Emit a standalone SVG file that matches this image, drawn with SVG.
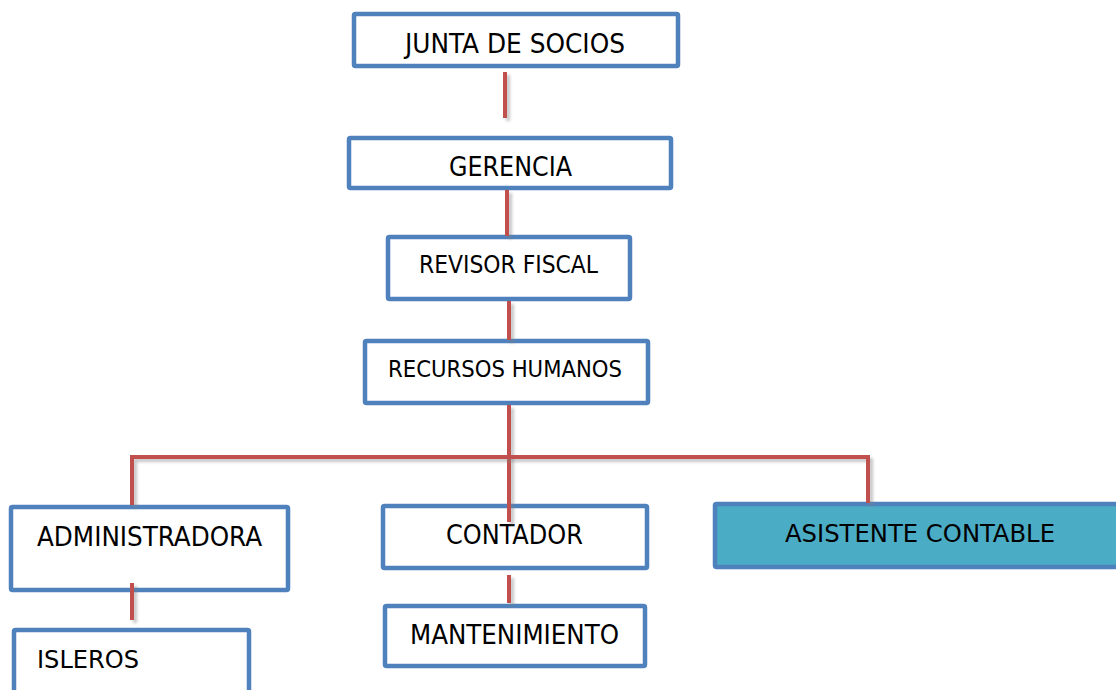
<svg xmlns="http://www.w3.org/2000/svg" width="1116" height="690" viewBox="0 0 1116 690">
<defs>
<style>
.box{fill:#ffffff;stroke:#4F81BD;stroke-width:4.5}
.fill{fill:#4BACC6}
.lbl{font-family:"DejaVu Sans Condensed","DejaVu Sans",sans-serif;fill:#000}
.con{fill:none;stroke:#C0504D;stroke-width:4;filter:url(#sh)}
</style>
<filter id="sh" filterUnits="userSpaceOnUse" x="0" y="0" width="1116" height="690">
<feDropShadow dx="3" dy="3" stdDeviation="1.5" flood-color="#808080" flood-opacity="0.45"/>
</filter>
</defs>
<rect width="1116" height="690" fill="#ffffff"/>
<g id="junta"><rect class="box" x="354" y="14" width="324" height="52" rx="1.5"/><text class="lbl" x="405" y="53" font-size="27" textLength="220" lengthAdjust="spacingAndGlyphs">JUNTA DE SOCIOS</text></g>
<g id="gerencia"><rect class="box" x="349" y="138" width="322" height="50" rx="1.5"/><text class="lbl" x="449" y="176" font-size="27" textLength="123" lengthAdjust="spacingAndGlyphs">GERENCIA</text></g>
<g id="revisor"><rect class="box" x="388" y="237" width="242" height="62" rx="1.5"/><text class="lbl" x="419" y="273" font-size="24" textLength="179" lengthAdjust="spacingAndGlyphs">REVISOR FISCAL</text></g>
<g id="recursos"><rect class="box" x="365" y="341" width="283" height="62" rx="1.5"/><text class="lbl" x="388" y="377" font-size="23" textLength="234" lengthAdjust="spacingAndGlyphs">RECURSOS HUMANOS</text></g>
<g id="administradora"><rect class="box" x="11" y="507" width="277" height="83" rx="1.5"/><text class="lbl" x="37" y="546" font-size="26" textLength="225" lengthAdjust="spacingAndGlyphs">ADMINISTRADORA</text></g>
<g id="isleros"><rect class="box" x="14" y="630" width="235" height="80" rx="1.5"/><text class="lbl" x="37" y="668" font-size="25" textLength="102" lengthAdjust="spacingAndGlyphs">ISLEROS</text></g>
<g id="contador"><rect class="box" x="383" y="506" width="264" height="62" rx="1.5"/><text class="lbl" x="446" y="544" font-size="26" textLength="137" lengthAdjust="spacingAndGlyphs">CONTADOR</text></g>
<g id="mantenimiento"><rect class="box" x="385" y="606" width="260" height="60" rx="1.5"/><text class="lbl" x="410" y="644" font-size="26" textLength="209" lengthAdjust="spacingAndGlyphs">MANTENIMIENTO</text></g>
<g id="asistente"><rect class="box fill" x="715" y="504" width="420" height="63" rx="1.5"/><text class="lbl" x="785" y="542" font-size="25" textLength="270" lengthAdjust="spacingAndGlyphs">ASISTENTE CONTABLE</text></g>
<g id="connectors">
<path class="con" d="M505,72 V118"/>
<path class="con" d="M507,190 V236"/>
<path class="con" d="M509,301 V340"/>
<path class="con" d="M509,405 V522"/>
<path class="con" d="M132,505 V457 H868 V503"/>
<path class="con" d="M132,583 V620"/>
<path class="con" d="M509,575 V603"/>
</g>
</svg>
